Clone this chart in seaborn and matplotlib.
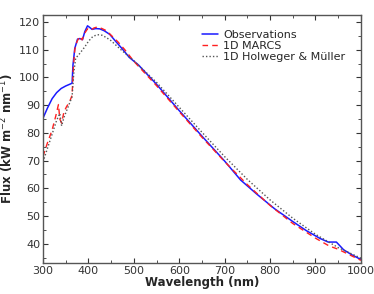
import matplotlib
matplotlib.use("Agg")
import matplotlib.pyplot as plt
from matplotlib.ticker import MultipleLocator
import seaborn as sns

# ── Data ──────────────────────────────────────────────────────────────────────
wl_obs = [300, 310, 320, 330, 340, 350, 360, 364, 366, 370, 376, 381, 387, 392,
          398, 403, 408, 416, 425, 435, 447, 460, 475, 490, 510, 550, 600, 650,
          700, 735, 770, 810, 850, 880, 910, 928, 946, 962, 980, 1000]
flux_obs = [85.3, 89.0, 92.3, 94.5, 96.0, 96.9, 97.6, 97.9, 104.5, 110.5, 113.8,
            114.0, 113.6, 116.5, 118.6, 118.0, 117.3, 117.6, 117.5, 116.8, 115.5,
            113.0, 110.2, 107.2, 104.5, 97.5, 88.0, 78.8, 69.8, 63.0, 58.0, 52.6,
            48.0, 44.7, 41.9, 40.6, 40.6, 37.8, 36.0, 34.3]

wl_marcs = [300, 310, 320, 328, 334, 337, 341, 346, 352, 358, 364, 367, 370, 375,
            381, 386, 392, 398, 405, 412, 420, 430, 440, 450, 465, 480, 500, 550,
            600, 650, 700, 750, 800, 850, 900, 930, 950, 975, 1000]
flux_marcs = [71.5, 76.5, 81.0, 86.0, 90.2, 85.0, 83.5, 87.5, 89.5, 91.0, 93.5,
              104.0, 110.0, 113.0, 114.8, 113.5, 116.0, 117.5, 117.0, 117.8, 118.2,
              117.6, 116.8, 115.2, 112.8, 110.0, 105.8, 97.0, 87.6, 78.4, 69.6,
              61.3, 53.8, 47.3, 42.0, 39.2, 38.0, 36.0, 34.0]

wl_hm = [300, 310, 320, 330, 337, 341, 346, 352, 358, 364, 368, 372, 378, 385,
         392, 400, 410, 420, 430, 440, 450, 470, 500, 550, 600, 650, 700, 750,
         800, 850, 900, 950, 1000]
flux_hm = [69.5, 74.5, 79.5, 84.5, 87.0, 82.5, 85.5, 88.0, 90.5, 93.0, 102.0,
           107.0, 108.0, 109.5, 111.0, 113.0, 114.8, 115.4, 115.2, 114.3, 113.2,
           110.2, 106.0, 98.2, 89.2, 80.2, 71.4, 63.2, 55.8, 49.2, 43.4, 38.6, 34.8]

labels = ["Observations", "1D MARCS", "1D Holweger & M\u00fcller"]

# ── Plot ──────────────────────────────────────────────────────────────────────
sns.set_style("ticks")
plt.rcParams["font.family"] = ["DejaVu Sans"]
plt.rcParams["xtick.direction"] = "in"
plt.rcParams["ytick.direction"] = "in"

fig = plt.figure(figsize=(3.74, 2.94), dpi=100)
ax = fig.add_axes([0.115, 0.105, 0.85, 0.844])

sns.lineplot(x=wl_obs, y=flux_obs, ax=ax, color="#1a1aff", lw=1.1,
             label=labels[0])
sns.lineplot(x=wl_marcs, y=flux_marcs, ax=ax, color="#ff2020", lw=1.0,
             linestyle=(0, (4, 3)), label=labels[1])
sns.lineplot(x=wl_hm, y=flux_hm, ax=ax, color="#555555", lw=1.0,
             linestyle=(0, (1, 1.5)), label=labels[2])

ax.set_xlim(300, 1000)
ax.set_ylim(33, 122.5)
ax.xaxis.set_major_locator(MultipleLocator(100))
ax.xaxis.set_minor_locator(MultipleLocator(50))
ax.yaxis.set_major_locator(MultipleLocator(10))
ax.yaxis.set_minor_locator(MultipleLocator(5))
ax.tick_params(which="both", top=True, right=True, labelsize=8,
               colors="#333333", pad=2)
ax.tick_params(which="major", length=3.5, width=0.8)
ax.tick_params(which="minor", length=2, width=0.6)
for s in ax.spines.values():
    s.set_color("#555555")
    s.set_linewidth(1.0)

ax.set_xlabel("Wavelength (nm)", fontsize=8.5, fontweight="bold", labelpad=0)
ax.set_ylabel("Flux (kW m$^{-2}$ nm$^{-1}$)", fontsize=8.5, fontweight="bold",
              labelpad=2)

ax.legend(loc="upper right", frameon=False, fontsize=8, handlelength=1.5,
          handletextpad=0.4, labelspacing=0.1, borderaxespad=0.6,
          bbox_to_anchor=(0.985, 0.985))

fig.savefig("out.png", dpi=100)
plt.close(fig)
